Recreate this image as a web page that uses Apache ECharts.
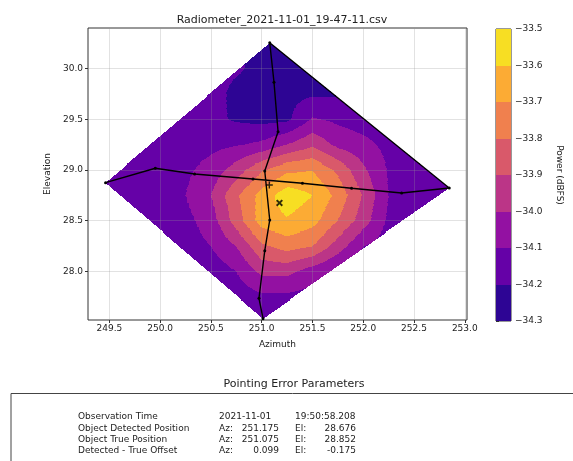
<!DOCTYPE html>
<html><head><meta charset="utf-8">
<script src="https://cdn.jsdelivr.net/npm/echarts@6/dist/echarts.min.js"></script>
<style>html,body{margin:0;padding:0;background:#fff}#c{width:573px;height:461px}</style>
</head><body><div id="c"></div>
<script>
// ---- data ----
const chartTitle = 'Radiometer_2021-11-01_19-47-11.csv';
const xTicks = [249.5,250.0,250.5,251.0,251.5,252.0,252.5,253.0];
const yTicks = [28.0,28.5,29.0,29.5,30.0];
// power grid nodes (azimuth columns, elevation rows)
const gridAz = [249.25,249.5,249.75,250.0,250.25,250.5,250.75,251.0,251.25,251.5,251.75,252.0,252.25,252.5,252.75,253.0];
const gridEl = [30.25,30.0,29.75,29.5,29.25,29.0,28.75,28.5,28.25,28.0,27.75,27.5];
const powerGrid = [
 [-34.16,-34.16,-34.16,-34.16,-34.16,-34.17,-34.19,-34.23,-34.24,-34.23,-34.22,-34.18,-34.16,-34.16,-34.16,-34.16],
 [-34.16,-34.16,-34.16,-34.16,-34.16,-34.17,-34.19,-34.22,-34.24,-34.23,-34.21,-34.18,-34.16,-34.16,-34.16,-34.16],
 [-34.16,-34.16,-34.16,-34.16,-34.16,-34.17,-34.22,-34.23,-34.23,-34.21,-34.21,-34.17,-34.16,-34.16,-34.16,-34.16],
 [-34.16,-34.16,-34.16,-34.16,-34.16,-34.18,-34.21,-34.23,-34.22,-34.09,-34.12,-34.15,-34.16,-34.16,-34.16,-34.16],
 [-34.16,-34.16,-34.16,-34.16,-34.15,-34.13,-34.11,-34.08,-34.00,-33.92,-34.03,-34.07,-34.13,-34.16,-34.16,-34.16],
 [-34.16,-34.16,-34.15,-34.15,-34.12,-34.06,-33.95,-33.81,-33.72,-33.70,-33.82,-33.98,-34.11,-34.15,-34.16,-34.16],
 [-34.16,-34.16,-34.15,-34.14,-34.10,-34.00,-33.82,-33.66,-33.54,-33.60,-33.73,-33.91,-34.10,-34.15,-34.16,-34.16],
 [-34.16,-34.16,-34.16,-34.15,-34.13,-34.05,-33.85,-33.65,-33.61,-33.66,-33.80,-33.95,-34.12,-34.16,-34.16,-34.16],
 [-34.16,-34.16,-34.16,-34.16,-34.15,-34.10,-34.00,-33.82,-33.76,-33.80,-33.95,-34.10,-34.15,-34.16,-34.16,-34.16],
 [-34.16,-34.16,-34.16,-34.16,-34.16,-34.16,-34.10,-33.97,-33.97,-34.05,-34.12,-34.15,-34.16,-34.16,-34.16,-34.16],
 [-34.16,-34.16,-34.16,-34.16,-34.16,-34.16,-34.16,-34.12,-34.12,-34.14,-34.16,-34.16,-34.16,-34.16,-34.16,-34.16],
 [-34.16,-34.16,-34.16,-34.16,-34.16,-34.16,-34.16,-34.15,-34.16,-34.16,-34.16,-34.16,-34.16,-34.16,-34.16,-34.16]
];
// contour levels (colorbar ticks) and band colours (plasma)
const levels = [-34.3,-34.2,-34.1,-34.0,-33.9,-33.8,-33.7,-33.6,-33.5];
const bandColors = ['#2d0594','#6501a7','#9311a2','#bb3587','#d9596a','#f0804e','#fcab34','#f7de23'];
// azimuth scan then elevation scan (telescope path)
const hScanAz = [249.462,249.952,250.339,250.914,251.401,251.885,252.378,252.847];
const hScanEl = [28.875,29.017,28.961,28.911,28.869,28.820,28.773,28.823];
const vScanAz = [251.079,251.121,251.161,251.030,251.079,251.030,250.973,251.013];
const vScanEl = [30.254,29.864,29.377,28.990,28.507,28.205,27.736,27.535];
const truePos = [251.075, 28.852];
const detectedPos = [251.175, 28.676];
// pointing error table
const tableTitle = 'Pointing Error Parameters';
const tableLabels = ['Observation Time','Object Detected Position','Object True Position','Detected - True Offset'];
const tableCol2Lead = ['2021-11-01','Az:','Az:','Az:'];
const tableAzValues = ['','251.175','251.075','0.099'];
const tableCol3Lead = ['19:50:58.208','El:','El:','El:'];
const tableElValues = ['','28.676','28.852','-0.175'];

// ---- build filled contour runs ----
const scanPts = hScanAz.map((a,i)=>[a,hScanEl[i]]).concat(vScanAz.map((a,i)=>[a,vScanEl[i]]));
function convexHull(points){
  const pts = points.slice().sort((a,b)=>a[0]-b[0]||a[1]-b[1]);
  const cross=(o,a,b)=>(a[0]-o[0])*(b[1]-o[1])-(a[1]-o[1])*(b[0]-o[0]);
  const lower=[]; for(const p of pts){while(lower.length>=2&&cross(lower[lower.length-2],lower[lower.length-1],p)<=0)lower.pop();lower.push(p);}
  const upper=[]; for(let i=pts.length-1;i>=0;i--){const p=pts[i];while(upper.length>=2&&cross(upper[upper.length-2],upper[upper.length-1],p)<=0)upper.pop();upper.push(p);}
  upper.pop(); lower.pop(); return lower.concat(upper);
}
const hull = convexHull(scanPts);
function fieldAt(az, el){
  let i=0; while(i<gridAz.length-2 && az>gridAz[i+1]) i++;
  let j=0; while(j<gridEl.length-2 && el<gridEl[j+1]) j++;
  const tx=(az-gridAz[i])/(gridAz[i+1]-gridAz[i]);
  const ty=(el-gridEl[j])/(gridEl[j+1]-gridEl[j]);
  const v00=powerGrid[j][i], v01=powerGrid[j][i+1], v10=powerGrid[j+1][i], v11=powerGrid[j+1][i+1];
  return v00*(1-tx)*(1-ty)+v01*tx*(1-ty)+v10*(1-tx)*ty+v11*tx*ty;
}
function bandOf(v){
  for(let k=0;k<levels.length-1;k++){ if(v<levels[k+1]) return Math.max(k,0); }
  return levels.length-2;
}
const elMax = Math.max(...hull.map(p=>p[1])), elMin = Math.min(...hull.map(p=>p[1]));
const dEl = 0.01, dAz = 0.01;
const runs = [];
for(let r=0;;r++){
  const elHi = elMax - r*dEl; if(elHi<=elMin) break;
  const elLo = Math.max(elHi-dEl, elMin), elMid=(elHi+elLo)/2;
  let lo=Infinity, hi=-Infinity;
  for(let k=0;k<hull.length;k++){
    const p=hull[k], q=hull[(k+1)%hull.length];
    if((p[1]-elMid)*(q[1]-elMid)<=0 && p[1]!==q[1]){
      const a=p[0]+(elMid-p[1])*(q[0]-p[0])/(q[1]-p[1]);
      lo=Math.min(lo,a); hi=Math.max(hi,a);
    }
  }
  if(!(hi>lo)) continue;
  let start=lo, cur=bandOf(fieldAt(Math.min(lo+dAz/2,hi),elMid));
  for(let a=lo;a<hi;a+=dAz){
    const a1=Math.min(a+dAz,hi);
    const b=bandOf(fieldAt((a+a1)/2,elMid));
    if(b!==cur){ runs.push([start,a,elLo,elHi,cur]); start=a; cur=b; }
  }
  runs.push([start,hi,elLo,elHi,cur]);
}
const colorbarData = levels.slice(0,-1).map((lv,i)=>[0,1,lv,levels[i+1],i]);
const pathData = scanPts.map(p=>[p[0],p[1]]);

function rectItem(params, api){
  const a=api.coord([api.value(0),api.value(3)]);
  const b=api.coord([api.value(1),api.value(2)]);
  const x0=Math.round(a[0]), x1=Math.round(b[0]), y0=Math.round(a[1]), y1=Math.round(b[1]);
  if(x1<=x0||y1<=y0) return null;
  return {type:'rect',shape:{x:x0,y:y0,width:x1-x0,height:y1-y0},style:{fill:bandColors[api.value(4)]}};
}
const half = v => Math.abs(v*2-Math.round(v*2))<1e-6;
const FONT = 'DejaVu Sans';
const txt = {fontFamily:FONT,fontSize:9,color:'#222'};

const chart = echarts.init(document.getElementById('c'));
const tableRowsY = [417,429,440,451];
const g = [];
g.push({type:'text',x:294,y:384,style:{text:tableTitle,font:'11px "DejaVu Sans"',fill:'#222',align:'center',verticalAlign:'middle'}});
g.push({type:'rect',shape:{x:11,y:393.5,width:700,height:200},style:{fill:'none',stroke:'#444',lineWidth:1}});
tableLabels.forEach((t,i)=>{
  const y=tableRowsY[i], f='9px "DejaVu Sans"';
  g.push({type:'text',x:78,y:y,style:{text:t,font:f,fill:'#222',verticalAlign:'middle'}});
  g.push({type:'text',x:219,y:y,style:{text:tableCol2Lead[i],font:f,fill:'#222',verticalAlign:'middle'}});
  if(tableAzValues[i]) g.push({type:'text',x:279,y:y,style:{text:tableAzValues[i],font:f,fill:'#222',align:'right',verticalAlign:'middle'}});
  g.push({type:'text',x:295,y:y,style:{text:tableCol3Lead[i],font:f,fill:'#222',verticalAlign:'middle'}});
  if(tableElValues[i]) g.push({type:'text',x:356,y:y,style:{text:tableElValues[i],font:f,fill:'#222',align:'right',verticalAlign:'middle'}});
});

chart.setOption({
  animation:false,
  backgroundColor:'#fff',
  title:{text:chartTitle,left:277,top:10,textAlign:'center',textStyle:{fontFamily:FONT,fontSize:11,fontWeight:'normal',color:'#222'}},
  grid:[
    {left:88,top:28,width:379,height:292,show:true,borderColor:'#333',borderWidth:1,backgroundColor:'transparent'},
    {left:496,top:29,width:15,height:292,show:true,borderColor:'#333',borderWidth:1,backgroundColor:'transparent'}
  ],
  xAxis:[
    {type:'value',gridIndex:0,min:249.289,max:253.022,splitNumber:7,z:3,
     name:'Azimuth',nameLocation:'middle',nameGap:20,nameTextStyle:txt,
     axisLine:{show:false},axisTick:{show:true,length:3,customValues:xTicks,lineStyle:{color:'#333'}},
     axisLabel:Object.assign({margin:4,customValues:xTicks,formatter:v=>half(v)?Number(v).toFixed(1):''},txt),
     splitLine:{show:true,lineStyle:{color:'rgba(150,150,150,0.28)',width:1}}},
    {type:'value',gridIndex:1,min:0,max:1,show:false}
  ],
  yAxis:[
    {type:'value',gridIndex:0,min:27.522,max:30.399,splitNumber:6,z:3,
     name:'Elevation',nameLocation:'middle',nameGap:29,nameTextStyle:txt,
     axisLine:{show:false},axisTick:{show:true,length:3,customValues:yTicks,lineStyle:{color:'#333'}},
     axisLabel:Object.assign({margin:5,customValues:yTicks,formatter:v=>half(v)?Number(v).toFixed(1):''},txt),
     splitLine:{show:true,lineStyle:{color:'rgba(150,150,150,0.28)',width:1}}},
    {type:'value',gridIndex:1,min:-34.3,max:-33.5,interval:0.1,position:'right',
     name:'Power (dBFS)',nameLocation:'middle',nameRotate:-90,nameGap:44,nameTextStyle:txt,
     axisLine:{show:false},axisTick:{show:true,length:3,lineStyle:{color:'#333'}},
     axisLabel:Object.assign({margin:4,formatter:v=>(v<0?'\u2212':'')+Math.abs(v).toFixed(1)},txt),
     splitLine:{show:false}}
  ],
  series:[
    {type:'custom',xAxisIndex:0,yAxisIndex:0,z:1,renderItem:rectItem,data:runs,encode:{x:[0,1],y:[2,3]},silent:true,clip:true},
    {type:'custom',xAxisIndex:1,yAxisIndex:1,z:1,renderItem:rectItem,data:colorbarData,encode:{x:[0,1],y:[2,3]},silent:true},
    {type:'line',xAxisIndex:0,yAxisIndex:0,z:5,data:pathData,symbol:'circle',symbolSize:3,showSymbol:true,
     lineStyle:{color:'#000',width:1.4},itemStyle:{color:'#000'},silent:true},
    {type:'scatter',xAxisIndex:0,yAxisIndex:0,z:6,data:[truePos],symbol:'path://M4,0h2v10h-2z M0,4h10v2h-10z',symbolSize:7,itemStyle:{color:'#000'},silent:true},
    {type:'scatter',xAxisIndex:0,yAxisIndex:0,z:6,data:[detectedPos],symbol:'path://M0,2L2,0L5,3L8,0L10,2L7,5L10,8L8,10L5,7L2,10L0,8L3,5Z',symbolSize:7,itemStyle:{color:'#000'},silent:true}
  ],
  graphic:g
});
</script></body></html>
